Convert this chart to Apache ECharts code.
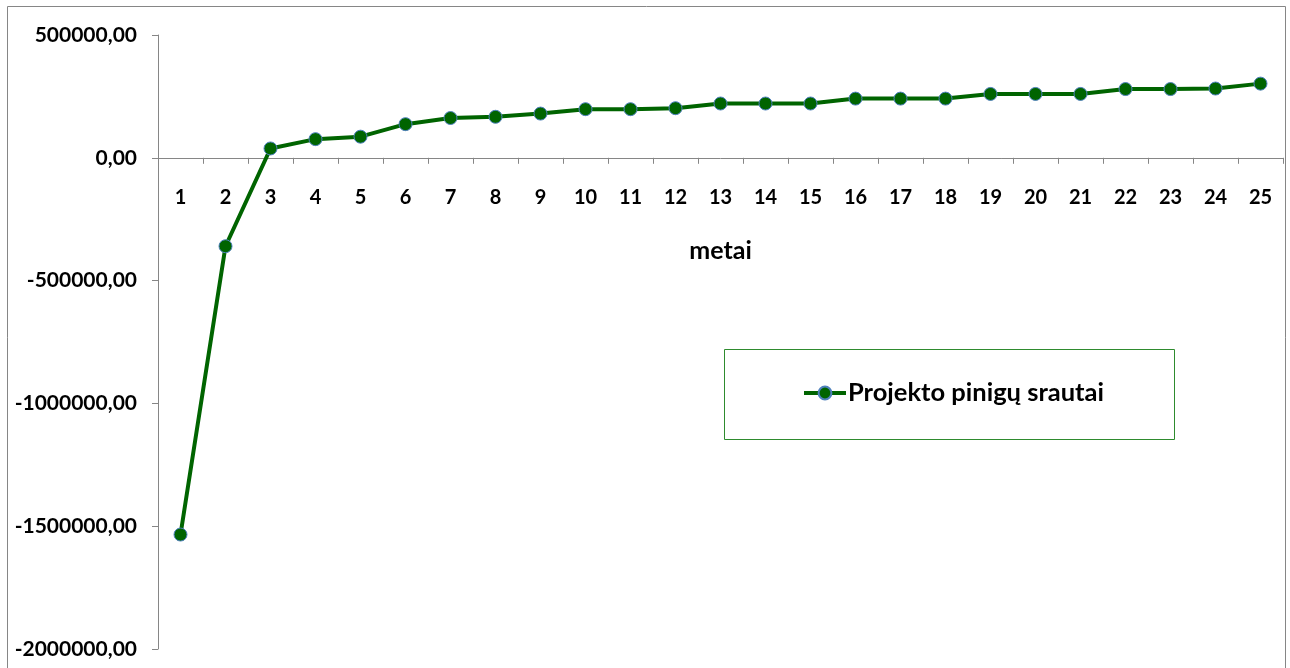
<!DOCTYPE html>
<html>
<head>
<meta charset="utf-8">
<script src="https://cdn.jsdelivr.net/npm/echarts@6/dist/echarts.min.js"></script>
<style>
  html, body { margin: 0; padding: 0; background: #ffffff; }
  #chart { width: 1290px; height: 668px; }
</style>
</head>
<body>
<div id="chart"></div>
<script>
// Years of the project
const years = ['1','2','3','4','5','6','7','8','9','10','11','12','13','14','15','16','17','18','19','20','21','22','23','24','25'];
// Project cash flow per year
const cashFlow = [-1534000, -360000, 38000, 76000, 86000, 137000, 162000, 167000, 180000, 198000, 198000, 202000,
                  221000, 221000, 221000, 241000, 241000, 241000, 260000, 260000, 260000, 280000, 280000, 282000, 302000];
// Value axis range and step
const yMin = -2000000;
const yMax = 500000;
const yStep = 500000;
const seriesName = 'Projekto pinigų srautai';
const axisTitle = 'metai';

const FONT = 'Lato, "Open Sans", sans-serif';
const AXIS_GRAY = '#868686';
const GREEN = '#006400';

const chart = echarts.init(document.getElementById('chart'), null, { renderer: 'canvas' });

chart.setOption({
  backgroundColor: '#ffffff',
  animation: false,
  grid: { left: 158, right: 7, top: 35, bottom: 19, containLabel: false, outerBoundsMode: 'none' },
  graphic: [
    { // outer chart frame
      type: 'rect', silent: true, z: -1,
      shape: { x: 7.5, y: 6.5, width: 1278, height: 720 },
      style: { fill: 'none', stroke: AXIS_GRAY, lineWidth: 1 }
    },
    { // legend frame
      type: 'rect', silent: true,
      shape: { x: 724.5, y: 349.5, width: 450, height: 90 },
      style: { fill: '#ffffff', stroke: '#2e8b2e', lineWidth: 1 }
    }
  ],
  legend: {
    data: [seriesName],
    left: 802, top: 380,
    itemWidth: 42, itemHeight: 16, itemGap: 0,
    padding: 0,
    lineStyle: { width: 4 },
    textStyle: { fontFamily: FONT, fontWeight: 'bold', fontSize: 25.5, color: '#000000', padding: [0, 0, 0, -3] },
    z: 10
  },
  xAxis: {
    type: 'category',
    data: years,
    boundaryGap: true,
    name: axisTitle,
    nameLocation: 'middle',
    nameGap: 81,
    nameTextStyle: { fontFamily: FONT, fontWeight: 'bold', fontSize: 25, color: '#000000' },
    axisLine: { onZero: false, lineStyle: { color: AXIS_GRAY, width: 1 } },
    axisTick: { show: true, inside: false, length: 6, alignWithLabel: false, lineStyle: { color: AXIS_GRAY } },
    axisLabel: { margin: 30, fontFamily: FONT, fontWeight: 'bold', fontSize: 20, color: '#000000', interval: 0 },
    splitLine: { show: false }
  },
  yAxis: {
    type: 'value',
    min: yMin, max: yMax, interval: yStep,
    axisLine: { show: true, lineStyle: { color: AXIS_GRAY, width: 1 } },
    axisTick: { show: true, inside: false, length: 6, lineStyle: { color: AXIS_GRAY } },
    axisLabel: {
      margin: 21, fontFamily: FONT, fontWeight: 'bold', fontSize: 21, color: '#000000',
      formatter: v => v.toFixed(2).replace('.', ',')
    },
    splitLine: { show: false }
  },
  series: [{
    name: seriesName,
    type: 'line',
    data: cashFlow,
    symbol: 'circle',
    symbolSize: 13,
    lineStyle: { color: GREEN, width: 4 },
    itemStyle: { color: GREEN, borderColor: '#4f81bd', borderWidth: 1 },
    z: 5
  }]
});

// Move the category axis (line, ticks, labels and title) up to the zero value
const zeroY = chart.convertToPixel({ yAxisIndex: 0 }, 0);
const bottomY = chart.convertToPixel({ yAxisIndex: 0 }, yMin);
chart.setOption({ xAxis: { offset: -(bottomY - zeroY) } });
</script>
</body>
</html>
